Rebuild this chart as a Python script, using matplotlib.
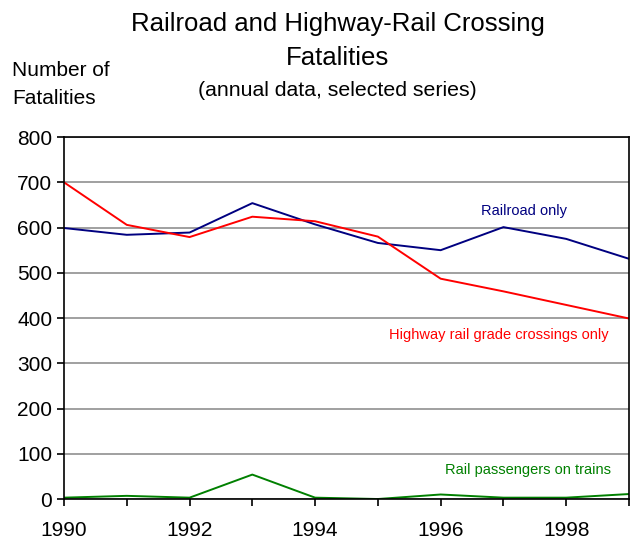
import matplotlib.pyplot as plt

plt.rcParams['font.family'] = ['Liberation Sans', 'DejaVu Sans']

# Datos
years = [1990, 1991, 1992, 1993, 1994, 1995, 1996, 1997, 1998, 1999]
railroad = [599, 584, 589, 654, 607, 566, 550, 601, 575, 531]
highway = [700, 606, 579, 624, 614, 580, 487, 459, 429, 399]
passengers = [3, 7, 3, 54, 3, 0, 10, 3, 3, 11]
yticks = [0, 100, 200, 300, 400, 500, 600, 700, 800]
xtick_labels = ["1990", "", "1992", "", "1994", "", "1996", "", "1998", ""]

fig = plt.figure(figsize=(6.31, 5.41), dpi=100)
ax = fig.add_axes([0.1014, 0.0776, 0.8954, 0.669])

ax.plot(years, railroad, color="#000080", lw=1.4)
ax.plot(years, highway, color="#ff0000", lw=1.4)
ax.plot(years, passengers, color="#008000", lw=1.4)

ax.set_xlim(1990, 1999)
ax.set_ylim(0, 800)
ax.set_yticks(yticks)
ax.set_xticks(years)
ax.set_xticklabels(xtick_labels)
ax.yaxis.grid(True, color="#999999", lw=1.3)
ax.set_axisbelow(True)
ax.tick_params(axis="both", labelsize=15, direction="out", length=5, width=1.2, colors="black")
ax.tick_params(axis="x", pad=11)
for s in ax.spines.values():
    s.set_linewidth(1.2)

ax.text(1997.32, 636, "Railroad only", color="#000080", fontsize=10.5, ha="center", va="center")
ax.text(1996.93, 362, "Highway rail grade crossings only", color="#ff0000", fontsize=10.5, ha="center", va="center")
ax.text(1997.39, 64, "Rail passengers on trains", color="#008000", fontsize=10.5, ha="center", va="center")

# Títulos
fig.text(338 / 631, 1 - 24 / 541, "Railroad and Highway-Rail Crossing", fontsize=18.5, ha="center", va="center")
fig.text(338 / 631, 1 - 58 / 541, "Fatalities", fontsize=18.5, ha="center", va="center")
fig.text(337 / 631, 1 - 91 / 541, "(annual data, selected series)", fontsize=15.3, ha="center", va="center")
fig.text(12 / 631, 1 - 70 / 541, "Number of", fontsize=15, ha="left", va="center")
fig.text(12 / 631, 1 - 99 / 541, "Fatalities", fontsize=15, ha="left", va="center")

fig.savefig("out.png", dpi=100)
